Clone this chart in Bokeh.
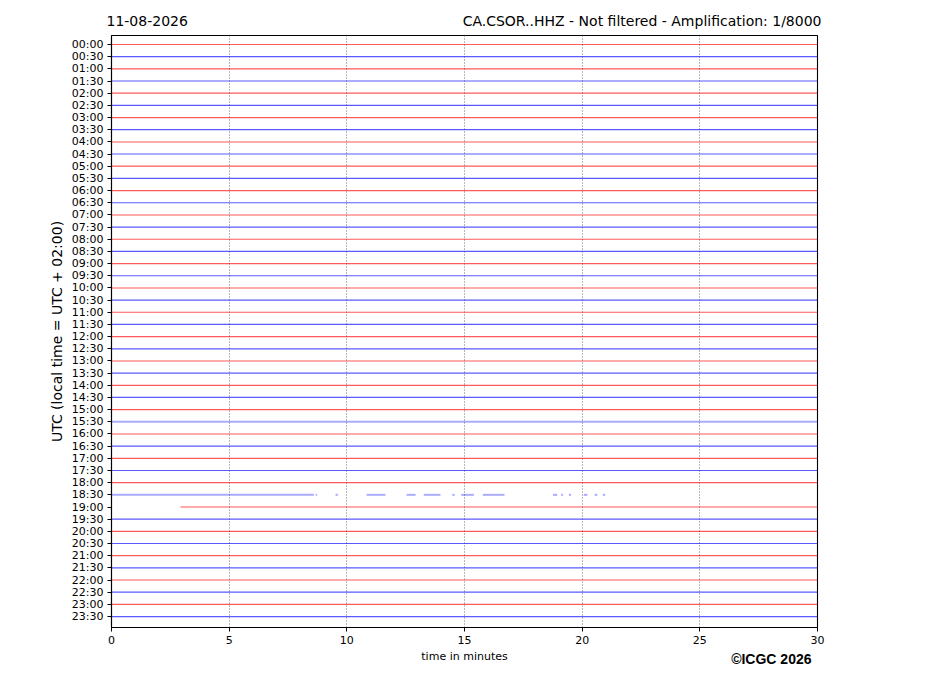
from bokeh.plotting import figure
from bokeh.models import Range1d, FixedTicker, Label, ColumnDataSource
from bokeh.embed import file_html
from bokeh.resources import INLINE

# ---- data ----
row_labels = [f"{h:02d}:{m:02d}" for h in range(24) for m in (0, 30)]
x_ticks = [0, 5, 10, 15, 20, 25, 30]
minutes_span = (0.0, 30.0)
date_text = "11-08-2026"
title_text = "CA.CSOR..HHZ - Not filtered - Amplification: 1/8000"
x_label = "time in minutes"
y_label = "UTC (local time = UTC + 02:00)"
credit = "\u00a9ICGC 2026"

# data gaps (segments with data, in minutes)
segments_1830 = [(0.0, 8.60), (8.68, 8.74), (9.52, 9.62), (10.84, 11.64),
                 (12.54, 12.92), (13.27, 13.98), (14.48, 14.58), (14.86, 15.40),
                 (15.78, 16.70), (18.76, 18.94), (19.11, 19.19), (19.44, 19.53),
                 (20.07, 20.22), (20.53, 20.64), (20.88, 20.98)]
segments_1900 = [(2.93, 30.0)]
special_segments = {"18:30": segments_1830, "19:00": segments_1900}
# rows with higher noise level (traces appear wider / fainter)
noisy_rows = ["01:30", "04:00", "04:30", "07:00", "10:00", "13:00",
              "15:30", "16:00", "18:30", "19:00", "22:00"]

# ---- build traces ----
xs, ys, cols, alphas, widths = [], [], [], [], []
for i, lab in enumerate(row_labels):
    segs = special_segments.get(lab, [minutes_span])
    red = (i % 2 == 0)
    noisy = lab in noisy_rows
    for a, b in segs:
        xs.append([a, b])
        ys.append([i, i])
        cols.append("#ff0000" if red else "#0000ff")
        alphas.append(0.33 if noisy else 0.65)
        widths.append(2.0 if noisy else 1.2)

src = ColumnDataSource(dict(xs=xs, ys=ys, color=cols, alpha=alphas, width=widths))

n = len(row_labels)
p = figure(width=910, height=688, output_backend="svg", toolbar_location=None,
           x_range=Range1d(0, 30), y_range=Range1d(n - 1 + 0.9, -0.74),
           min_border_left=111, min_border_right=93, min_border_top=35,
           min_border_bottom=61)
p.background_fill_color = "white"
p.border_fill_color = "white"
p.outline_line_color = "black"
p.outline_line_width = 1.1
p.outline_line_alpha = 1.0

p.multi_line(xs="xs", ys="ys", line_color="color", line_alpha="alpha",
             line_width="width", source=src)

# axes
p.xaxis.ticker = FixedTicker(ticks=x_ticks)
p.yaxis.ticker = FixedTicker(ticks=list(range(n)))
p.yaxis.major_label_overrides = {i: lab for i, lab in enumerate(row_labels)}
for ax in (p.xaxis[0], p.yaxis[0]):
    ax.axis_line_color = "black"
    ax.axis_line_width = 1.1
    ax.major_tick_in = 0
    ax.major_tick_out = 4
    ax.major_tick_line_color = "black"
    ax.minor_tick_line_color = None
    ax.major_label_text_font = "DejaVu Sans"
    ax.major_label_text_font_size = "11px"
    ax.major_label_text_color = "black"
    ax.major_label_standoff = 4
    ax.axis_label_text_font = "DejaVu Sans"
    ax.axis_label_text_font_style = "normal"
    ax.axis_label_text_color = "black"
p.xaxis.axis_label = x_label
p.xaxis.axis_label_text_font_size = "11px"
p.xaxis.axis_label_standoff = 3
p.yaxis.axis_label = y_label
p.yaxis.axis_label_text_font_size = "14px"
p.yaxis.axis_label_standoff = 4

p.xgrid.ticker = FixedTicker(ticks=x_ticks[1:-1])
p.xgrid.grid_line_color = "#333333"
p.xgrid.grid_line_width = 0.7
p.xgrid.grid_line_dash = "1 2"
p.xgrid.level = "overlay"
p.ygrid.grid_line_color = None

# titles and credit (canvas units, placed in side panels so they are not clipped)
p.add_layout(Label(x=106, y=20, x_units="canvas", y_units="canvas", text=date_text,
                   text_font="DejaVu Sans", text_font_size="14px",
                   text_color="black", text_baseline="alphabetic", text_align="left"),
             "above")
p.add_layout(Label(x=821, y=20, x_units="canvas", y_units="canvas", text=title_text,
                   text_font="DejaVu Sans", text_font_size="14px",
                   text_color="black", text_baseline="alphabetic", text_align="right"),
             "above")
p.add_layout(Label(x=811, y=658, x_units="canvas", y_units="canvas", text=credit,
                   text_font="Liberation Sans", text_font_size="14px",
                   text_font_style="bold", text_color="black",
                   text_baseline="alphabetic", text_align="right"),
             "below")

open("out.html", "w").write(file_html(p, INLINE))
